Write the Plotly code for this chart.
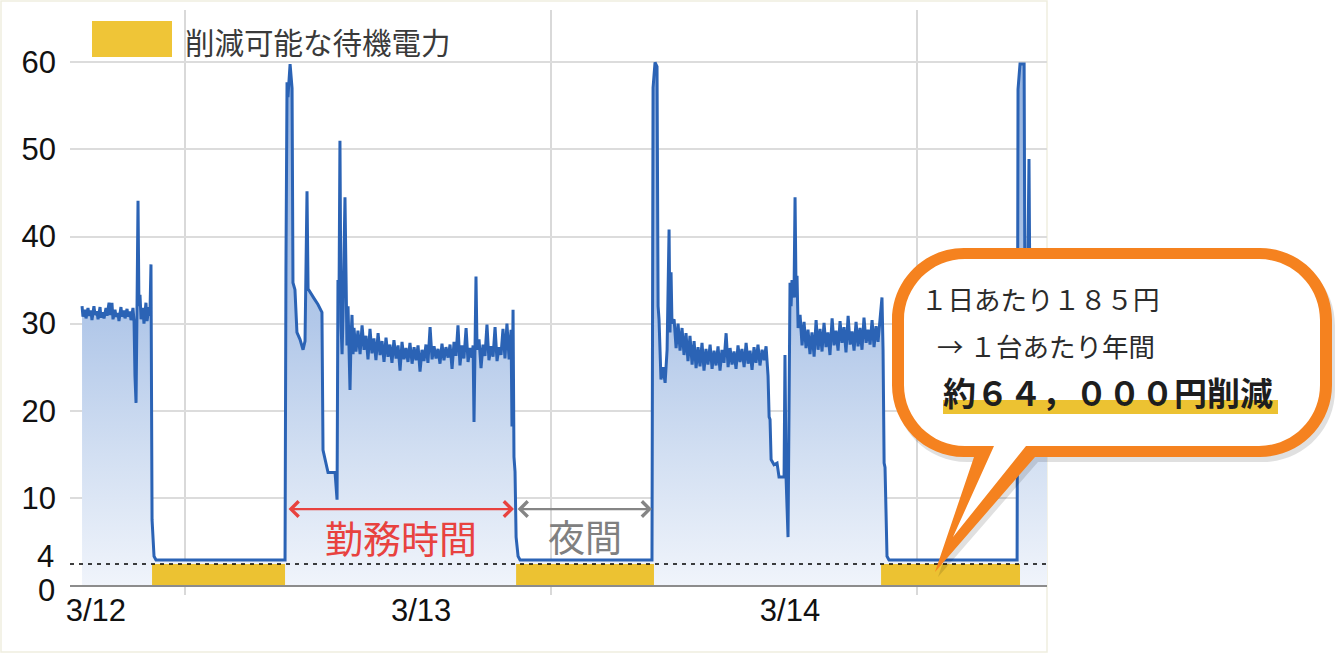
import plotly.graph_objects as go

# ---------------- data ----------------
# time = hours counted from 3/12 00:00, power = kW
evening_0312_t = [17.25, 17.31, 17.44, 17.51, 17.64, 17.71, 17.84, 17.90, 18.03, 18.10,
                  18.23, 18.30, 18.43, 18.49, 18.62, 18.69, 18.82, 18.89, 19.02, 19.08,
                  19.21, 19.28, 19.41, 19.48, 19.61, 19.67, 19.80, 19.87, 20.00, 20.07,
                  20.20, 20.26, 20.39, 20.46, 20.59, 20.66, 20.72, 20.79, 20.85, 20.92,
                  20.98, 21.05, 21.12, 21.25, 21.31, 21.44, 21.51, 21.64, 21.70, 21.77,
                  21.84, 21.90, 21.97, 22.10, 30.56]
evening_0312_kw = [32.0, 30.8, 31.6, 30.6, 31.8, 30.9, 31.5, 30.4, 32.0, 31.0,
                   31.4, 30.5, 31.9, 30.7, 31.3, 30.6, 31.8, 30.9, 32.4, 31.0,
                   32.4, 30.5, 31.6, 30.8, 31.2, 30.3, 31.9, 30.8, 31.5, 30.6,
                   31.7, 30.8, 31.4, 30.4, 31.8, 30.2, 24.0, 20.9, 31.0, 44.1,
                   32.0, 33.3, 30.5, 31.8, 30.0, 32.4, 30.3, 31.9, 30.9, 36.8,
                   7.5, 4.4, 3.3, 2.87, 2.87]

workday_0313_t = [30.62, 30.69, 30.75, 30.89, 31.02, 31.08, 31.21, 31.34, 31.54, 31.74,
                  31.87, 32.00, 32.07, 32.20, 32.46, 32.72, 32.98, 33.05, 33.18, 33.38,
                  33.84, 33.97, 34.03, 34.10, 34.16, 34.23, 34.30, 34.36, 34.49, 34.56,
                  34.62, 34.69, 34.75, 34.82, 34.89, 34.95, 35.02,
                  35.08, 35.21, 35.34, 35.48, 35.61, 35.74, 35.87, 36.00, 36.13, 36.26,
                  36.39, 36.52, 36.66, 36.79, 36.92, 37.05, 37.18, 37.31, 37.44, 37.57,
                  37.70, 37.84, 37.97, 38.10, 38.23, 38.36, 38.49, 38.62, 38.75, 38.89,
                  39.02, 39.15, 39.28, 39.41, 39.54, 39.67, 39.80, 39.93, 40.07, 40.20,
                  40.33, 40.46, 40.59, 40.72, 40.85, 40.98, 41.11, 41.25, 41.38, 41.51,
                  41.64, 41.77, 41.90, 42.03, 42.16, 42.29, 42.43, 42.56, 42.69, 42.82,
                  42.89, 42.95, 43.02, 43.08, 43.15,
                  43.28, 43.41, 43.54, 43.67, 43.80, 43.93, 44.07, 44.20, 44.33, 44.46,
                  44.59, 44.72, 44.85, 44.98, 45.11, 45.25, 45.38,
                  45.44, 45.51, 45.57, 45.64, 45.71, 45.84, 45.97, 54.62]
workday_0313_kw = [36.5, 57.7, 56.0, 59.8, 57.0, 34.7, 33.9, 29.0, 28.2, 27.0,
                   28.0, 45.2, 34.0, 33.6, 32.9, 32.2, 31.3, 15.5, 14.4, 12.9,
                   12.9, 9.8, 35.0, 33.0, 51.0, 30.0, 26.5, 31.0, 44.5, 31.0,
                   27.5, 32.0, 26.0, 22.4, 28.5, 31.0, 26.5,
                   29.5, 26.8, 29.2, 26.5, 29.8, 27.0, 28.6, 25.9, 29.4, 26.6,
                   28.3, 25.8, 28.9, 26.4, 28.0, 25.6, 28.4, 26.2, 27.6, 25.5,
                   28.1, 26.0, 27.5, 24.6, 27.9, 25.9, 27.2, 25.6, 27.8, 25.4,
                   27.3, 25.8, 27.5, 24.5, 27.0, 25.7, 27.6, 25.5, 29.6, 25.9,
                   27.4, 26.0, 27.1, 25.4, 27.7, 25.8, 27.3, 26.1, 27.6, 24.8,
                   27.9, 26.3, 29.8, 25.2, 27.5, 26.0, 29.5, 25.6, 27.2, 26.1,
                   27.5, 18.7, 26.0, 35.4, 27.0,
                   28.2, 24.9, 27.6, 26.3, 29.9, 25.8, 27.4, 26.2, 29.6, 25.7,
                   27.3, 26.4, 29.4, 26.0, 30.0, 25.9, 29.3,
                   18.2, 31.6, 14.7, 13.0, 5.5, 3.3, 2.87, 2.87]

workday_0314_t = [54.69, 54.82, 54.95, 55.02, 55.08, 55.15, 55.21, 55.34, 55.48, 55.61,
                  55.74, 55.80, 55.87, 55.93,
                  56.07, 56.20, 56.33, 56.46, 56.59, 56.72, 56.85, 56.98, 57.11, 57.25,
                  57.38, 57.51, 57.64, 57.77, 57.90, 58.03, 58.16, 58.29, 58.43, 58.56,
                  58.69, 58.82, 58.95, 59.08, 59.21, 59.34, 59.48, 59.61, 59.74, 59.87,
                  60.00, 60.13, 60.26, 60.39, 60.52, 60.66, 60.79, 60.92, 61.05, 61.18,
                  61.31, 61.44, 61.57, 61.70, 61.84, 61.97, 62.10,
                  62.23, 62.30, 62.36, 62.43, 62.62, 62.82, 62.95, 63.28, 63.34, 63.41,
                  63.54, 63.67, 63.74, 63.80, 63.93, 64.00, 64.07, 64.13, 64.20,
                  64.33, 64.46, 64.59, 64.72, 64.85, 64.98, 65.11, 65.25, 65.38, 65.51,
                  65.64, 65.77, 65.90, 66.03, 66.16, 66.29, 66.43, 66.56, 66.69, 66.82,
                  66.95, 67.08, 67.21, 67.34, 67.48, 67.61, 67.74, 67.87, 68.00, 68.13,
                  68.26, 68.39, 68.52, 68.66, 68.79, 68.92, 69.05, 69.18, 69.31, 69.44,
                  69.57,
                  69.70, 69.77, 69.84, 69.90, 69.97, 70.03, 70.16, 78.56]
workday_0314_kw = [57.1, 60.0, 59.5, 32.0, 30.5, 25.9, 23.6, 25.0, 23.2, 27.0,
                   40.8, 29.0, 35.9, 30.0,
                   30.5, 27.2, 30.0, 26.9, 29.5, 26.4, 28.9, 25.7, 28.6, 25.3,
                   28.0, 24.9, 27.3, 25.1, 27.8, 24.6, 27.1, 25.3, 27.6, 24.8,
                   26.9, 25.2, 27.4, 24.6, 27.0, 25.5, 28.9, 25.0, 27.2, 25.3,
                   26.8, 24.8, 27.5, 25.6, 27.1, 25.0, 27.8, 25.4, 26.9, 24.7,
                   27.3, 25.5, 27.6, 25.2, 27.0, 25.8, 27.4,
                   24.0, 19.3, 19.0, 14.4, 13.8, 14.0, 12.4, 12.4, 26.4, 12.4,
                   5.5, 34.7, 32.0, 35.0, 33.0, 44.5, 33.0, 35.5, 29.5,
                   31.0, 27.5, 30.2, 27.2, 29.3, 26.5, 29.0, 26.2, 30.4, 27.0,
                   29.4, 26.8, 30.1, 27.3, 29.0, 26.4, 30.6, 27.5, 29.2, 26.9,
                   30.3, 27.8, 29.6, 26.7, 30.9, 27.6, 29.1, 26.9, 30.2, 27.4,
                   29.5, 27.0, 30.7, 27.8, 29.3, 27.6, 30.4, 27.3, 29.7, 27.9,
                   30.2,
                   33.0, 27.0, 14.0, 13.5, 5.0, 3.3, 2.87, 2.87]

morning_0315_t = [78.62, 78.75, 79.02, 79.08, 79.21, 79.34, 79.41, 79.47, 79.60, 79.74,
                  79.87, 80.00, 80.13, 80.26, 80.39, 80.52]
morning_0315_kw = [56.9, 59.8, 59.8, 30.0, 28.0, 48.9, 30.0, 28.5, 30.0, 27.5,
                   29.5, 27.0, 30.0, 27.8, 29.2, 28.0]

standby_start = [21.84, 45.71, 69.64]     # reducible standby periods
standby_end = [30.56, 54.75, 78.75]
standby_kw = 2.41

midnight_grid = [24, 48, 72]
date_tick_pos = [18.16, 39.48, 63.67]
date_tick_text = ["3/12", "3/13", "3/14"]
kw_ticks = [10, 20, 30, 40, 50, 60]
kw_tick_text = ["10", "20", "30", "40", "50", "60"]
zero_tick_text = "0"
standby_tick_text = "4"

work_span = [30.69, 45.57]
night_span = [45.71, 54.62]
span_arrow_kw = 8.72

legend_text = "削減可能な待機電力"
work_label = "勤務時間"
night_label = "夜間"
callout_lines = ["１日あたり１８５円", "→ １台あたり年間", "約６４，０００円削減"]

# ---------------- assemble ----------------
segs = [(evening_0312_t, evening_0312_kw), (workday_0313_t, workday_0313_kw),
        (workday_0314_t, workday_0314_kw), (morning_0315_t, morning_0315_kw)]
t_all, kw_all = [], []
for ts, ks in segs:
    assert len(ts) == len(ks), (len(ts), len(ks))
    t_all += ts
    kw_all += ks

W, H = 1337, 655
ML, MR, MT, MB = 70, 290, 10, 70
PW, PH = W - ML - MR, H - MT - MB


def fx(px):
    return (px - ML) / PW


def fy(py):
    return (H - MB - py) / PH


GOLD = "#ecc232"
BLUE = "#2b63b5"
ORANGE = "#f5821f"
TICKFONT = dict(family="Liberation Sans, Arial", size=31, color="#111111")
JP = "Noto Sans CJK JP"

fig = go.Figure()
fig.add_trace(go.Scatter(
    x=t_all, y=kw_all, mode="lines",
    line=dict(color=BLUE, width=3),
    fill="tozeroy",
    fillgradient=dict(type="vertical", start=0, stop=60,
                      colorscale=[[0, "rgb(240,244,251)"], [0.25, "rgb(210,223,242)"],
                                  [0.5, "rgb(178,200,233)"], [1, "rgb(150,180,225)"]]),
    showlegend=False, hoverinfo="skip"))

bx, by = [], []
for s, e in zip(standby_start, standby_end):
    bx += [s, s, e, e, s, None]
    by += [0, standby_kw, standby_kw, 0, 0, None]
fig.add_trace(go.Scatter(x=bx, y=by, mode="lines", fill="toself", fillcolor=GOLD,
                         line=dict(width=0, color=GOLD), name=legend_text,
                         showlegend=False, hoverinfo="skip"))


def callout_path(L, T, R, B, r, tail_r, tip, tail_l, dx=0, dy=0):
    k = 0.5523 * r
    P = lambda x, y: f"{fx(x + dx):.5f},{fy(y + dy):.5f}"
    return (f"M {P(L + r, T)} L {P(R - r, T)} "
            f"C {P(R - r + k, T)} {P(R, T + r - k)} {P(R, T + r)} "
            f"L {P(R, B - r)} C {P(R, B - r + k)} {P(R - r + k, B)} {P(R - r, B)} "
            f"L {P(tail_r, B)} L {P(tip[0], tip[1])} L {P(tail_l, B)} "
            f"L {P(L + r, B)} C {P(L + r - k, B)} {P(L, B - r + k)} {P(L, B - r)} "
            f"L {P(L, T + r)} C {P(L, T + r - k)} {P(L + r - k, T)} {P(L + r, T)} Z")


outer = (892, 248, 1332, 457, 72, 1035, (935, 572), 974)
inner = (904, 259, 1320, 446, 61, 1026, (953, 537), 994)

shapes = [
    # light frame of the chart card
    dict(type="rect", xref="paper", yref="paper", x0=fx(1), x1=fx(1047), y0=fy(652), y1=fy(1),
         line=dict(color="#efeee0", width=1.5), fillcolor="rgba(0,0,0,0)", layer="below"),
    # legend swatch
    dict(type="rect", xref="paper", yref="paper", x0=fx(92), x1=fx(172), y0=fy(57), y1=fy(21),
         line=dict(width=0), fillcolor="#efc537"),
    # standby dotted line
    dict(type="line", xref="paper", yref="y", x0=0, x1=1, y0=standby_kw, y1=standby_kw,
         line=dict(color="#000000", width=1.5, dash="4px,5px")),
    # callout shadow, outline and body
    dict(type="path", xref="paper", yref="paper", path=callout_path(*outer, dx=3, dy=5),
         fillcolor="rgba(0,0,0,0.12)", line=dict(width=0)),
    dict(type="path", xref="paper", yref="paper", path=callout_path(*outer),
         fillcolor=ORANGE, line=dict(width=0)),
    dict(type="path", xref="paper", yref="paper", path=callout_path(*inner),
         fillcolor="white", line=dict(width=0)),
    # highlight under the savings line
    dict(type="rect", xref="paper", yref="paper", x0=fx(943), x1=fx(1278), y0=fy(414), y1=fy(400),
         line=dict(width=0), fillcolor=GOLD),
]

annotations = [
    dict(xref="paper", yref="paper", x=fx(183), y=fy(41), xanchor="left", yanchor="middle",
         text=legend_text, showarrow=False, font=dict(family=JP, size=29.5, color="#3a3a3a")),
    dict(xref="paper", yref="paper", x=fx(56), y=fy(556), xanchor="right", yanchor="middle",
         text=standby_tick_text, showarrow=False, font=TICKFONT),
    dict(xref="paper", yref="paper", x=fx(57), y=fy(590), xanchor="right", yanchor="middle",
         text=zero_tick_text, showarrow=False, font=TICKFONT),
    dict(x=work_span[1], y=span_arrow_kw, ax=work_span[0], ay=span_arrow_kw,
         xref="x", yref="y", axref="x", ayref="y", text="", showarrow=True,
         arrowside="end+start", arrowhead=4, startarrowhead=4, arrowsize=1.3, startarrowsize=1.3,
         arrowwidth=2.3, arrowcolor="#e8423f", standoff=0, startstandoff=0),
    dict(x=night_span[1], y=span_arrow_kw, ax=night_span[0], ay=span_arrow_kw,
         xref="x", yref="y", axref="x", ayref="y", text="", showarrow=True,
         arrowside="end+start", arrowhead=4, startarrowhead=4, arrowsize=1.3, startarrowsize=1.3,
         arrowwidth=2.3, arrowcolor="#858585", standoff=0, startstandoff=0),
    dict(xref="paper", yref="paper", x=fx(401), y=fy(536), xanchor="center", yanchor="middle",
         text=work_label, showarrow=False, font=dict(family=JP, size=38, color="#e8423f")),
    dict(xref="paper", yref="paper", x=fx(585), y=fy(536), xanchor="center", yanchor="middle",
         text=night_label, showarrow=False, font=dict(family=JP, size=37, color="#808080")),
    dict(xref="paper", yref="paper", x=fx(919), y=fy(298), xanchor="left", yanchor="middle",
         text=callout_lines[0], showarrow=False, font=dict(family=JP, size=26.5, color="#2b2b2b")),
    dict(xref="paper", yref="paper", x=fx(935), y=fy(345), xanchor="left", yanchor="middle",
         text=callout_lines[1], showarrow=False, font=dict(family=JP, size=26.5, color="#2b2b2b")),
    dict(xref="paper", yref="paper", x=fx(941), y=fy(392), xanchor="left", yanchor="middle",
         text="<b>" + callout_lines[2] + "</b>", showarrow=False,
         font=dict(family=JP, size=33, color="#1e1e1e")),
]

fig.update_layout(
    width=W, height=H, margin=dict(l=ML, r=MR, t=MT, b=MB, pad=0),
    paper_bgcolor="white", plot_bgcolor="white", showlegend=False,
    shapes=shapes, annotations=annotations,
    xaxis=dict(range=[16.46, 80.52], tickmode="array", tickvals=date_tick_pos,
               ticktext=date_tick_text, ticks="", showgrid=False, zeroline=False,
               showline=True, linecolor="#8c8c8c", linewidth=2,
               tickfont=TICKFONT, ticklabelstandoff=-3,
               minor=dict(tickmode="array", tickvals=midnight_grid, showgrid=True,
                          gridcolor="#d9d9d9", gridwidth=2, ticks="outside", ticklen=8,
                          tickcolor="#d9d9d9", tickwidth=2)),
    yaxis=dict(range=[0, 66], tickmode="array", tickvals=kw_ticks, ticktext=kw_tick_text,
               ticks="", showgrid=True, gridcolor="#dcdcdc", gridwidth=2, zeroline=False,
               showline=False, tickfont=TICKFONT, ticklabelstandoff=13),
)

fig.write_html("out.html", config={"displayModeBar": False},
               post_script="document.body.style.margin='0';document.body.style.overflow='hidden';")
